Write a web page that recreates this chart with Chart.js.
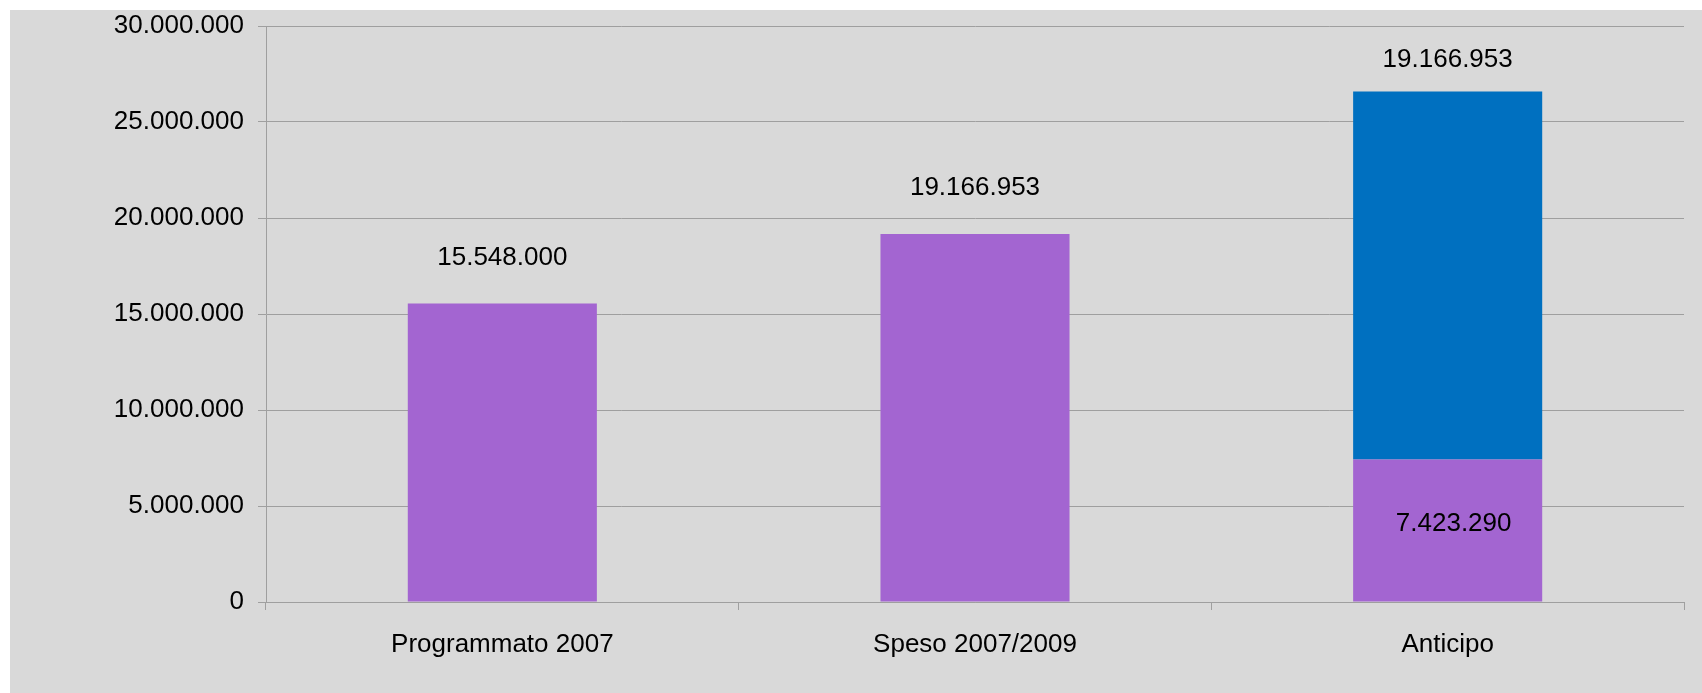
<!DOCTYPE html>
<html>
<head>
<meta charset="utf-8">
<script src="https://cdn.jsdelivr.net/npm/chart.js@4/dist/chart.umd.min.js"></script>
<style>
    html, body { margin: 0; padding: 0; background: #ffffff; }
    #wrap { position: absolute; left: 10px; top: 10px; width: 1692px; height: 683px; background: #d9d9d9; }
</style>
</head>
<body>
<div id="wrap"><canvas id="spesaChart" width="1692" height="683"></canvas></div>
<script>
const categories = ['Programmato 2007', 'Speso 2007/2009', 'Anticipo'];
const spesoValues = [15548000, 19166953, 7423290];
const anticipoValues = [null, null, 19166953];
const yTicks = [0, 5000000, 10000000, 15000000, 20000000, 25000000, 30000000];

const FONT = { family: '"Liberation Sans", Arial, sans-serif', size: 26 };

function formatIt(value) {
    return String(Math.round(value)).replace(/\B(?=(\d{3})+(?!\d))/g, '.');
}

// labels above / inside the bars
const barLabels = {
    id: 'barLabels',
    afterDatasetsDraw(chart) {
        const ctx = chart.ctx;
        ctx.save();
        ctx.font = FONT.size + 'px ' + FONT.family;
        ctx.fillStyle = '#000000';
        ctx.textAlign = 'center';
        ctx.textBaseline = 'middle';
        chart.data.datasets.forEach((ds, di) => {
            const meta = chart.getDatasetMeta(di);
            meta.data.forEach((bar, i) => {
                const v = ds.data[i];
                if (v == null) return;
                const stackedOnTop = di === 0 && anticipoValues[i] != null;
                if (stackedOnTop) {
                    ctx.fillText(formatIt(v), bar.x + 6, (bar.y + bar.base) / 2 - 7);
                } else {
                    const off = di === 0 ? 46 : 32;
                    ctx.fillText(formatIt(v), bar.x, bar.y - off);
                }
            });
        });
        ctx.restore();
    }
};

new Chart(document.getElementById('spesaChart').getContext('2d'), {
    type: 'bar',
    data: {
        labels: categories,
        datasets: [{
            label: 'Speso',
            data: spesoValues,
            backgroundColor: '#a365d1',
            borderWidth: 0,
            barPercentage: 0.4,
            categoryPercentage: 1
        }, {
            label: 'Anticipo',
            data: anticipoValues,
            backgroundColor: '#0070c0',
            borderWidth: 0,
            barPercentage: 0.4,
            categoryPercentage: 1
        }]
    },
    options: {
        responsive: false,
        animation: false,
        layout: { padding: { left: 0, right: 18, top: 16, bottom: 0 } },
        plugins: {
            legend: { display: false },
            tooltip: { enabled: false }
        },
        scales: {
            x: {
                stacked: true,
                grid: { drawOnChartArea: false, drawTicks: true, tickLength: 8, color: '#9f9f9f', offset: true },
                border: { color: '#9f9f9f', width: 1 },
                ticks: { font: FONT, color: '#000000', padding: 19 },
                afterFit(scale) { scale.height = 91; }
            },
            y: {
                stacked: true,
                min: 0,
                max: 30000000,
                afterBuildTicks(scale) { scale.ticks = yTicks.map(v => ({ value: v })); },
                grid: { color: '#9f9f9f', tickLength: 8, lineWidth: 1 },
                border: { color: '#9f9f9f', width: 1 },
                ticks: { font: FONT, color: '#000000', padding: 14, callback: v => formatIt(v) },
                afterFit(scale) {
                    scale.width = 256;
                    scale.paddingTop = 0;
                    scale.paddingBottom = 0;
                }
            }
        }
    },
    plugins: [barLabels]
});
</script>
</body>
</html>
